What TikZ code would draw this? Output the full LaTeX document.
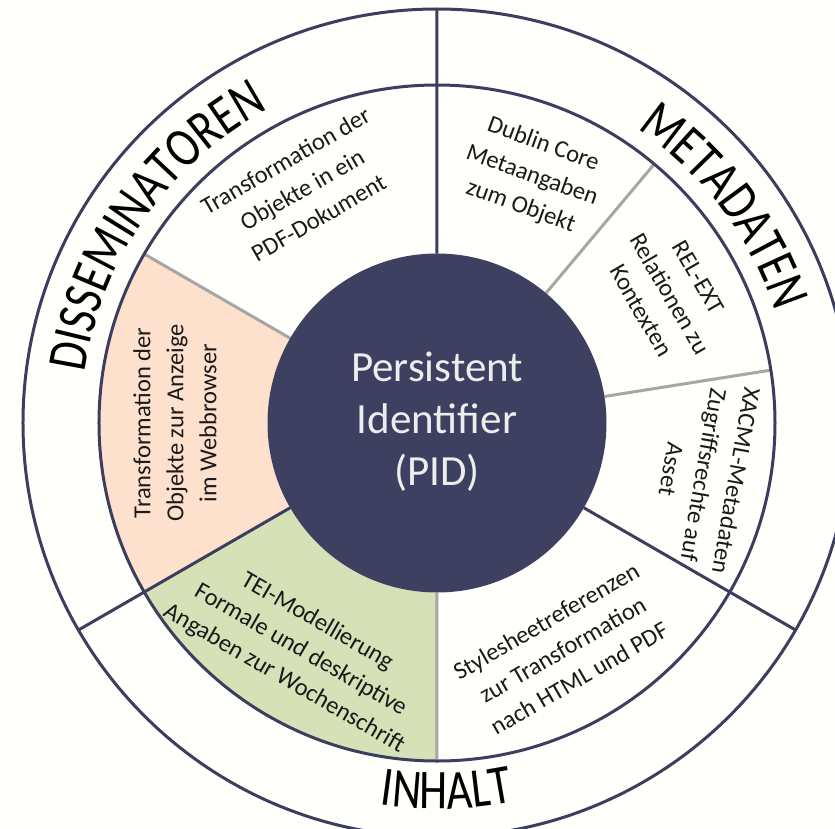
\documentclass[tikz,border=0pt]{standalone}
\usepackage{fontspec}
\setmainfont{Carlito}
\newfontfamily\lblfamily[FakeStretch=0.8]{Carlito}
\usetikzlibrary{decorations.text}
\definecolor{bgc}{HTML}{FFFFFB}
\definecolor{navyc}{HTML}{3B3E5E}
\definecolor{discc}{HTML}{3D4061}
\definecolor{peachc}{HTML}{FDE1CC}
\definecolor{greenc}{HTML}{D6E1B8}
\definecolor{greyc}{HTML}{A6A6A6}
\definecolor{txtc}{HTML}{1A1A1A}
\newcommand\lblfont{\lblfamily\fontsize{56}{56}\selectfont}
\tikzset{
  navyline/.style={draw=navyc, line width=3pt},
  greyline/.style={draw=greyc, line width=3pt},
  celltext/.style={align=center, text=txtc, inner sep=0pt, font=\fontsize{24.5}{33}\selectfont},
  pidtext/.style={align=center, text=white!93!black, inner sep=0pt, font=\fontsize{43}{52}\selectfont},
  ringlabel/.style={decorate, decoration={text along path, text align=center, text color=black}},
}
\begin{document}
\begin{tikzpicture}
\useasboundingbox (-437pt,-405pt) rectangle (398pt,423pt);
\fill[bgc] (-437pt,-405pt) rectangle (398pt,423pt);
% coloured sectors
\fill[peachc] (150:338pt) arc[start angle=150,end angle=210,radius=338pt] -- (210:169.5pt) arc[start angle=210,end angle=150,radius=169.5pt] -- cycle;
\fill[greenc] (210:338pt) arc[start angle=210,end angle=270,radius=338pt] -- (270:169.5pt) arc[start angle=270,end angle=210,radius=169.5pt] -- cycle;
% grey dividers
\coordinate (g1a) at (150:169.5pt); \coordinate (g1b) at (150:338pt);
\coordinate (g2a) at (270:169.5pt); \coordinate (g2b) at (270:338pt);
\coordinate (g3a) at (50:169.5pt);  \coordinate (g3b) at (50:338pt);
\coordinate (g4a) at (9:169.5pt);   \coordinate (g4b) at (9:338pt);
\draw[greyline] (g1a) -- (g1b) (g2a) -- (g2b) (g3a) -- (g3b) (g4a) -- (g4b);
% navy dividers
\coordinate (n1a) at (90:169.5pt);  \coordinate (n1b) at (90:414pt);
\coordinate (n2a) at (210:169.5pt); \coordinate (n2b) at (210:414pt);
\coordinate (n3a) at (330:169.5pt); \coordinate (n3b) at (330:414pt);
\draw[navyline] (n1a) -- (n1b) (n2a) -- (n2b) (n3a) -- (n3b);
% circles
\draw[navyline] (0,0) circle[radius=338pt];
\draw[navyline] (0,0) circle[radius=414pt];
\node[circle, fill=discc, minimum size=339pt, inner sep=0pt] (disc) at (0,0) {};
\node[pidtext] (pid) at (0pt,1pt) {Persistent\\Identifier\\(PID)};
% cell texts
\node[celltext, rotate=30]   (t1) at (120:270pt) {Transformation der\\Objekte in ein\\PDF-Dokument};
\node[celltext, rotate=90]   (t2) at (180:262pt) {Transformation der\\Objekte zur Anzeige\\im Webbrowser};
\node[celltext, rotate=-30]  (t3) at (239:265pt) {TEI-Modellierung\\Formale und deskriptive\\Angaben zur Wochenschrift};
\node[celltext, rotate=30]   (t4) at (299:259pt) {Stylesheetreferenzen\\zur Transformation\\nach HTML und PDF};
\node[celltext, rotate=-20]  (t5) at (69:265pt) {Dublin Core\\Metaangaben\\zum Objekt};
\node[celltext, rotate=-60]  (t6) at (29:266pt) {REL-EXT\\Relationen zu\\Kontexten};
\node[celltext, rotate=-100] (t7) at (-11:272pt) {XACML-Metadaten\\Zugriffsrechte auf\\Asset};
% ring labels
\path[ringlabel, decoration={text={|\lblfont|DISSEMINATOREN}}] (205:356pt) arc[start angle=205,end angle=85,radius=356pt];
\path[ringlabel, decoration={text={|\lblfont|METADATEN}}] (97:356pt) arc[start angle=97,end angle=-23,radius=356pt];
\path[ringlabel, decoration={text={|\lblfont|INHALT}}] (211.5:386pt) arc[start angle=211.5,end angle=331.5,radius=386pt];
\end{tikzpicture}
\end{document}
